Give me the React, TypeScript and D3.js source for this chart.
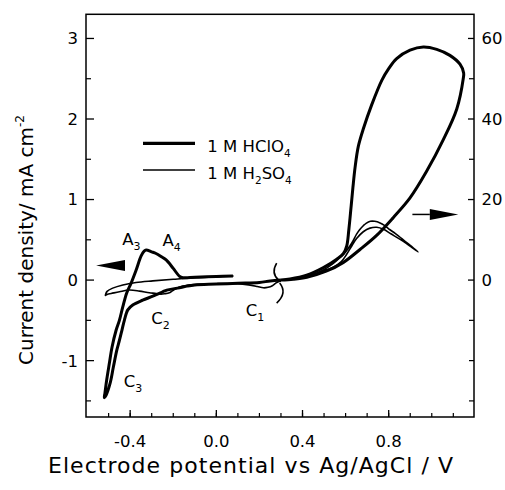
import React from 'react';
import * as d3 from 'd3';

// 1 M HClO4, part read on the left axis (mA cm-2): 0.30 V -> -0.52 V -> 0.08 V
const hclo4Low: [number, number][] = [
  [0.30, 0.0], [0.25, -0.01], [0.20, -0.03], [0.10, -0.04], [0.0, -0.05], [-0.10, -0.06],
  [-0.137, -0.075], [-0.18, -0.10], [-0.23, -0.124], [-0.249, -0.145], [-0.295, -0.20],
  [-0.342, -0.25], [-0.388, -0.31], [-0.411, -0.37], [-0.427, -0.50], [-0.438, -0.62],
  [-0.45, -0.75], [-0.462, -0.87], [-0.478, -1.08], [-0.493, -1.28], [-0.512, -1.43],
  [-0.52, -1.46], [-0.517, -1.40], [-0.509, -1.24], [-0.497, -1.04], [-0.484, -0.83],
  [-0.465, -0.62], [-0.45, -0.50], [-0.434, -0.33], [-0.416, -0.16], [-0.396, -0.04],
  [-0.373, 0.12], [-0.349, 0.30], [-0.335, 0.36], [-0.326, 0.373], [-0.30, 0.35],
  [-0.28, 0.33], [-0.255, 0.29], [-0.233, 0.25], [-0.20, 0.145], [-0.172, 0.05],
  [-0.156, 0.03], [-0.10, 0.035], [0.0, 0.045], [0.077, 0.05],
];

// 1 M HClO4, part read on the right axis: 0.30 V -> 1.15 V -> 0.30 V
const hclo4High: [number, number][] = [
  [0.30, 0.0], [0.357, 0.2], [0.42, 0.7], [0.51, 2.2], [0.59, 4.4], [0.667, 7.6],
  [0.744, 11.1], [0.821, 15.5], [0.899, 20.4], [0.976, 27.0], [1.053, 34.8], [1.116, 42.5],
  [1.146, 50.0], [1.148, 51.4], [1.131, 53.6], [1.084, 55.8], [1.023, 57.3], [0.961, 57.9],
  [0.899, 57.1], [0.837, 55.0], [0.80, 52.5], [0.768, 49.6], [0.721, 43.5], [0.682, 37.5],
  [0.659, 33.2], [0.644, 28.0], [0.634, 23.0], [0.626, 18.5], [0.615, 12.5], [0.605, 8.4],
  [0.59, 6.6], [0.559, 5.2], [0.497, 3.1], [0.419, 1.2], [0.342, 0.25], [0.30, 0.0],
];

// 1 M H2SO4, left axis part: 0.30 V -> -0.515 V -> 0.08 V
const h2so4Low: [number, number][] = [
  [0.30, -0.01], [0.28, -0.03], [0.26, -0.07], [0.24, -0.09], [0.218, -0.096], [0.19, -0.08],
  [0.15, -0.06], [0.10, -0.045], [0.0, -0.045], [-0.10, -0.055], [-0.156, -0.075],
  [-0.195, -0.116], [-0.218, -0.158], [-0.24, -0.17], [-0.257, -0.174], [-0.285, -0.165],
  [-0.311, -0.158], [-0.357, -0.137], [-0.404, -0.124], [-0.45, -0.145], [-0.488, -0.166],
  [-0.505, -0.175], [-0.515, -0.19], [-0.507, -0.14], [-0.481, -0.10], [-0.434, -0.06],
  [-0.373, -0.03], [-0.295, -0.01], [-0.20, 0.01], [-0.094, 0.03], [0.0, 0.04], [0.08, 0.05],
];

// 1 M H2SO4, right axis part: 0.30 V -> 0.94 V -> 0.30 V
const h2so4High: [number, number][] = [
  [0.30, 0.0], [0.36, 0.3], [0.42, 0.9], [0.48, 2.0], [0.543, 3.2], [0.58, 4.6], [0.605, 6.4],
  [0.63, 8.6], [0.651, 10.3], [0.682, 12.0], [0.713, 12.9], [0.745, 13.1], [0.776, 12.6],
  [0.81, 11.5], [0.868, 9.6], [0.91, 8.0], [0.937, 7.0], [0.90, 8.6], [0.868, 10.0],
  [0.83, 11.6], [0.806, 12.5], [0.78, 13.6], [0.76, 14.2], [0.735, 14.6], [0.715, 14.6],
  [0.695, 14.1], [0.682, 13.5], [0.665, 12.5], [0.651, 11.4], [0.635, 9.8], [0.62, 8.5],
  [0.60, 7.0], [0.574, 5.6], [0.54, 4.0], [0.497, 2.5], [0.45, 1.4], [0.40, 0.6],
  [0.35, 0.2], [0.30, 0.0],
];

const xTicks = [-0.4, 0.0, 0.4, 0.8];
const xTickLabels = ['-0.4', '0.0', '0.4', '0.8'];
const xMinorTicks = d3.range(-5, 12).map(i => i / 10);
const yLeftTicks = [-1, 0, 1, 2, 3];
const yLeftMinor = [-1.5, -0.5, 0.5, 1.5, 2.5];
const yRightTicks = [0, 20, 40, 60];
const yRightMinor = [-30, -20, -10, 10, 30, 50];

const legendItems = [
  { name: '1 M HClO', sub: '4', pre: '', thick: true },
  { name: '1 M H', sub: '2', pre: 'SO', thick: false },
];

// peak labels [letter, subscript, V, mA cm-2]
const peakLabels: [string, string, number, number][] = [
  ['A', '3', -0.437, 0.43],
  ['A', '4', -0.25, 0.42],
  ['C', '2', -0.302, -0.54],
  ['C', '1', 0.136, -0.44],
  ['C', '3', -0.43, -1.33],
];

const W = 505, H = 490;
const font = 'DejaVu Sans, Verdana, sans-serif';

export default function App() {
  const x = d3.scaleLinear().domain([-0.605, 1.196]).range([86, 474]);
  const yL = d3.scaleLinear().domain([-1.70, 3.30]).range([417, 14.3]);
  const yR = d3.scaleLinear().domain([-34, 66]).range([417, 14.3]);

  const lineL = d3.line<[number, number]>().x(d => x(d[0])).y(d => yL(d[1])).curve(d3.curveCatmullRom.alpha(0.5));
  const lineR = d3.line<[number, number]>().x(d => x(d[0])).y(d => yR(d[1])).curve(d3.curveCatmullRom.alpha(0.5));

  const [x0, x1] = x.range();
  const [y0, y1] = yL.range();

  // bracket marks and arrows placed from data coordinates
  const bx = x(0.28), by = yL(0);
  const la = { tip: x(-0.558), base: x(-0.424), y: yL(0.18) };
  const ra = { start: x(0.91), base: x(0.991), tip: x(1.123), y: yR(16.3) };

  return (
    <svg width={W} height={H} style={{ position: 'absolute', left: 0, top: 0, background: '#fff' }} fontFamily={font}>
      {/* curves */}
      <path d={lineL(h2so4Low) || ''} fill="none" stroke="#000" strokeWidth={1.6} strokeLinejoin="round" />
      <path d={lineR(h2so4High) || ''} fill="none" stroke="#000" strokeWidth={1.6} strokeLinejoin="round" />
      <path d={lineL(hclo4Low) || ''} fill="none" stroke="#000" strokeWidth={3} strokeLinejoin="round" />
      <path d={lineR(hclo4High) || ''} fill="none" stroke="#000" strokeWidth={3} strokeLinejoin="round" />

      {/* axis break */}
      <path d={`M${bx},${by - 17} Q${bx - 6},${by - 7} ${bx + 2},${by}`} fill="none" stroke="#000" strokeWidth={1.6} />
      <path d={`M${bx + 3},${by + 3} Q${bx + 11},${by + 13} ${bx},${by + 23}`} fill="none" stroke="#000" strokeWidth={1.6} />

      {/* arrows pointing to the axes */}
      <polygon points={`${la.tip},${la.y} ${la.base},${la.y - 5.5} ${la.base},${la.y + 5.5}`} fill="#000" />
      <line x1={ra.start} x2={ra.base} y1={ra.y} y2={ra.y} stroke="#000" strokeWidth={1.5} />
      <polygon points={`${ra.tip},${ra.y} ${ra.base},${ra.y - 5.5} ${ra.base},${ra.y + 5.5}`} fill="#000" />

      {/* frame */}
      <rect x={x0} y={y1} width={x1 - x0} height={y0 - y1} fill="none" stroke="#000" strokeWidth={1.5} />

      {/* bottom ticks */}
      {xMinorTicks.map(t => (
        <line key={'xm' + t} x1={x(t)} x2={x(t)} y1={y0} y2={y0 - 4} stroke="#000" strokeWidth={1.2} />
      ))}
      {xTicks.map((t, i) => (
        <g key={'x' + t}>
          <line x1={x(t)} x2={x(t)} y1={y0} y2={y0 - 7} stroke="#000" strokeWidth={1.3} />
          <text x={x(t)} y={446.7} textAnchor="middle" fontSize={16.5}>{xTickLabels[i]}</text>
        </g>
      ))}

      {/* left ticks */}
      {yLeftMinor.map(t => (
        <line key={'lm' + t} x1={x0} x2={x0 + 5} y1={yL(t)} y2={yL(t)} stroke="#000" strokeWidth={1.2} />
      ))}
      {yLeftTicks.map(t => (
        <g key={'l' + t}>
          <line x1={x0} x2={x0 + 8} y1={yL(t)} y2={yL(t)} stroke="#000" strokeWidth={1.3} />
          <text x={78} y={yL(t)} dy="0.36em" textAnchor="end" fontSize={16.5}>{String(t)}</text>
        </g>
      ))}

      {/* right ticks */}
      {yRightMinor.map(t => (
        <line key={'rm' + t} x1={x1} x2={x1 - 5} y1={yR(t)} y2={yR(t)} stroke="#000" strokeWidth={1.2} />
      ))}
      {yRightTicks.map(t => (
        <g key={'r' + t}>
          <line x1={x1} x2={x1 - 6} y1={yR(t)} y2={yR(t)} stroke="#000" strokeWidth={1.3} />
          <text x={481.5} y={yR(t)} dy="0.36em" textAnchor="start" fontSize={16.5}>{String(t)}</text>
        </g>
      ))}

      {/* axis titles */}
      <text x={250.5} y={472.7} textAnchor="middle" fontSize={22} textLength={405} lengthAdjust="spacing">
        Electrode potential vs Ag/AgCl / V
      </text>
      <text transform="translate(33,365) rotate(-90)" fontSize={20}>
        Current density/ mA cm<tspan dy={-9} fontSize={12}>-2</tspan>
      </text>

      {/* legend */}
      {legendItems.map((d, i) => {
        const ly = 143.3 + i * 26.7;
        return (
          <g key={d.name + i}>
            <line x1={143} x2={195} y1={ly} y2={ly} stroke="#000" strokeWidth={d.thick ? 3.2 : 1.4} />
            <text x={207.3} y={ly + 8.6} fontSize={16.5}>
              {d.name}
              <tspan dy={5} fontSize={10.5}>{d.sub}</tspan>
              {d.pre ? <tspan dy={-5}>{d.pre}</tspan> : null}
              {d.pre ? <tspan dy={5} fontSize={10.5}>4</tspan> : null}
            </text>
          </g>
        );
      })}

      {/* peak labels */}
      {peakLabels.map(([a, s, v, c]) => (
        <text key={a + s} x={x(v)} y={yL(c)} fontSize={16.5}>
          {a}<tspan dy={5} fontSize={11}>{s}</tspan>
        </text>
      ))}
    </svg>
  );
}
